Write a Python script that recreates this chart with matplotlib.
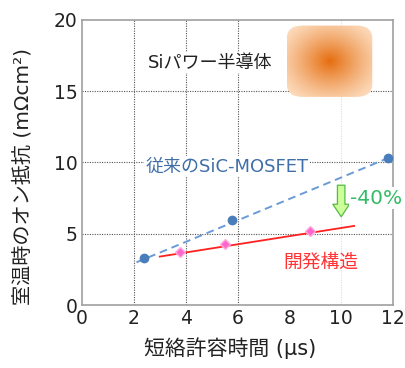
import numpy as np
import matplotlib
matplotlib.use("Agg")
import matplotlib.pyplot as plt
from matplotlib.patches import FancyBboxPatch, FancyArrowPatch

plt.rcParams['font.family'] = ['DejaVu Sans', 'Noto Sans CJK JP']

# Data
sic_x = [2.4, 5.8, 11.8]
sic_y = [3.3, 6.0, 10.3]
sic_fit_x = [2.1, 11.8]
sic_fit_y = [3.0, 10.3]
new_x = [3.8, 5.5, 8.8]
new_y = [3.7, 4.25, 5.2]
new_fit_x = [3.0, 10.5]
new_fit_y = [3.4, 5.55]
xticks = [0, 2, 4, 6, 8, 10, 12]
yticks = [0, 5, 10, 15, 20]

fig = plt.figure(figsize=(4.06, 3.68), dpi=100)
ax = fig.add_axes([0.202, 0.171, 0.766, 0.775])
ax.set_xlim(0, 12)
ax.set_ylim(0, 20)
ax.set_xticks(xticks)
ax.set_yticks(yticks)
ax.tick_params(length=0, labelsize=13.5, colors='#222222', pad=3)
for s in ax.spines.values():
    s.set_color('#a0a0a0')
    s.set_linewidth(1.2)

# grid
for gx in [2, 4, 6]:
    ax.axvline(gx, color='#555555', lw=0.8, ls=(0, (1, 1.2)), zorder=0)
ax.axvline(10, color='#dddddd', lw=0.8, ls=(0, (1, 1.2)), zorder=0)
for gy in [5, 10, 15]:
    ax.axhline(gy, color='#555555', lw=0.8, ls=(0, (1, 1.2)), zorder=0)

# orange gradient box
x0, x1, y0, y1 = 7.9, 11.2, 14.6, 19.6
n = 200
gx_, gy_ = np.meshgrid(np.linspace(-1, 1, n), np.linspace(-1, 1, n))
r = np.clip(np.sqrt(gx_**2 + gy_**2) / 1.3, 0, 1)
c_center = np.array([0.90, 0.43, 0.06])
c_edge = np.array([0.99, 0.86, 0.74])
w = (1 - r[..., None]) ** 1.2
img = c_center[None, None, :] * w + c_edge[None, None, :] * (1 - w)
im = ax.imshow(img, extent=[x0, x1, y0, y1], aspect='auto', zorder=2, interpolation='bilinear')
patch = FancyBboxPatch((x0, y0), x1 - x0, y1 - y0,
                       boxstyle="round,pad=0,rounding_size=0.6",
                       mutation_aspect=(20 / 12) * (0.775 * 3.68) / (0.766 * 4.06),
                       transform=ax.transData, fc='none', ec='none')
ax.add_patch(patch)
im.set_clip_path(patch)

# lines
ax.plot(sic_fit_x, sic_fit_y, ls=(0, (4, 2.5)), color='#6a9bd8', lw=1.4, zorder=3)
ax.plot(sic_x, sic_y, 'o', color='#4a7ebb', ms=6, zorder=4)
ax.plot(new_fit_x, new_fit_y, '-', color='#ff2020', lw=1.3, zorder=3)
ax.plot(new_x, new_y, 'D', mfc='#ff66cc', mec='#ffaadd', ms=5, zorder=4)

# arrow
arr = FancyArrowPatch((10.0, 8.6), (10.0, 6.0),
                      arrowstyle="simple,head_width=1.0,head_length=0.75,tail_width=0.45",
                      mutation_scale=12, fc='#ccff99', ec='#55bb44', lw=0.9, zorder=5)
ax.add_patch(arr)

# texts
ax.text(4.95, 17.0, 'Siパワー半導体', fontsize=13, color='#222222', ha='center', va='center',
        bbox=dict(fc='white', ec='none', pad=1), zorder=3)
ax.text(5.6, 9.7, '従来のSiC-MOSFET', fontsize=13, color='#3f6fa8', ha='center', va='center',
        bbox=dict(fc='white', ec='none', pad=1), zorder=3)
ax.text(9.2, 3.0, '開発構造', fontsize=13.5, color='#ff3333', ha='center', va='center', zorder=3)
ax.text(10.35, 7.5, '-40%', fontsize=14.5, color='#33bb66', ha='left', va='center',
        bbox=dict(fc='white', ec='none', pad=1), zorder=6, clip_on=False)

ax.set_xlabel('短絡許容時間 (μs)', fontsize=15, color='#222222', va='center')
ax.set_ylabel('室温時のオン抵抗 (mΩcm²)', fontsize=14.5, color='#222222', va='center')
ax.xaxis.set_label_coords(0.476, -0.15)
ax.yaxis.set_label_coords(-0.19, 0.45)

fig.savefig('out.png', dpi=100)
